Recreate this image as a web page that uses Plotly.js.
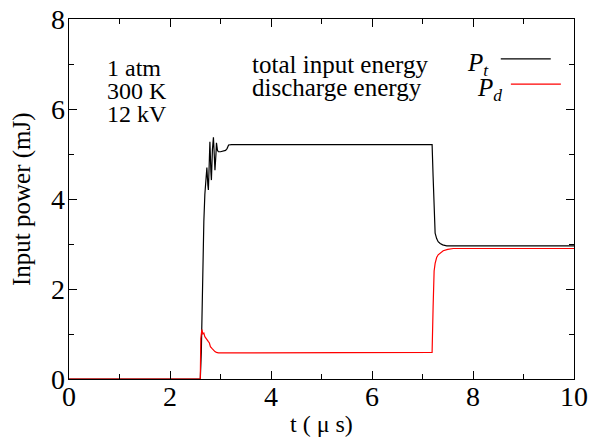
<!DOCTYPE html>
<html>
<head>
<meta charset="utf-8">
<script src="https://cdn.plot.ly/plotly-3.0.1.min.js"></script>
<style>
  html, body { margin: 0; padding: 0; background: #fff; }
  #chart { width: 590px; height: 440px; }
</style>
</head>
<body>
<div id="chart"></div>
<script>
// Time axis (microseconds) and energies (mJ) for the 12 kV discharge at 1 atm, 300 K
const tTotal = [0, 2.60, 2.62, 2.63, 2.65, 2.67, 2.69, 2.71, 2.73, 2.75, 2.76, 2.78, 2.79,
  2.81, 2.82, 2.84, 2.86, 2.88, 2.89, 2.91, 2.92, 2.94, 2.96, 3.00, 3.05, 3.10, 3.13,
  3.16, 3.22, 5.00, 7.19, 7.21, 7.23, 7.25, 7.28, 7.31, 7.35, 7.40, 7.48, 7.60, 8.00, 10];
const pTotal = [0, 0, 0.6, 1.3, 2.8, 3.5, 4.1, 4.5, 4.7, 4.3, 4.2, 4.9, 5.27,
  4.6, 4.42, 5.1, 5.37, 4.9, 4.64, 5.0, 5.25, 5.08, 5.05, 5.05, 5.06, 5.08, 5.12,
  5.20, 5.21, 5.21, 5.21, 4.5, 3.6, 3.24, 3.12, 3.05, 3.01, 2.98, 2.96, 2.96, 2.96, 2.96];

const tDischarge = [0, 2.60, 2.61, 2.63, 2.65, 2.67, 2.69, 2.71, 2.73, 2.75, 2.76, 2.78,
  2.80, 2.83, 2.86, 2.89, 2.92, 2.96, 3.10, 5.00, 7.19, 7.21, 7.23, 7.25, 7.28, 7.31,
  7.35, 7.41, 7.50, 7.61, 7.80, 8.00, 10];
const pDischarge = [0, 0, 0.9, 1.10, 1.00, 1.02, 0.94, 0.90, 0.87, 0.85, 0.83, 0.80,
  0.72, 0.68, 0.64, 0.61, 0.59, 0.58, 0.58, 0.58, 0.59, 1.6, 2.4, 2.57, 2.70, 2.76,
  2.80, 2.85, 2.88, 2.90, 2.90, 2.90, 2.90];

const xTicks = [0, 2, 4, 6, 8, 10];
const yTicks = [0, 2, 4, 6, 8];
const xRange = [0, 10];
const yRange = [0, 8];
const xTitle = 't ( μ s)';
const yTitle = 'Input power (mJ)';

const serif = 'Liberation Serif';

function font(size) {
  return { family: serif, size: size, color: '#000000' };
}

const traces = [
  { x: tTotal, y: pTotal, mode: 'lines', name: 'total input energy',
    line: { color: '#000000', width: 1.2 }, showlegend: false },
  { x: tDischarge, y: pDischarge, mode: 'lines', name: 'discharge energy',
    line: { color: '#ff0000', width: 1.2 }, showlegend: false },
  // empty trace that carries the overlay axes used for the unit (minor) ticks
  { x: [], y: [], xaxis: 'x2', yaxis: 'y2', mode: 'lines', showlegend: false, hoverinfo: 'skip' }
];

function note(x, y, text, size) {
  return { xref: 'paper', yref: 'paper', x: x, y: y, xanchor: 'left', yanchor: 'middle',
    text: text, showarrow: false, font: font(size) };
}

// major axes: ticks every 2 units, mirrored onto the opposite frame edge
function majorAxis(range, vals) {
  return {
    range: range, tickmode: 'array', tickvals: vals, showticklabels: false,
    showline: true, linecolor: '#000', linewidth: 1, mirror: 'ticks',
    ticks: 'inside', ticklen: 8, tickwidth: 1, tickcolor: '#000',
    showgrid: false, zeroline: false
  };
}

// overlay axes: short unlabelled ticks every unit
function minorAxis(range, overlay, anchor) {
  return {
    range: range, overlaying: overlay, anchor: anchor, dtick: 1, tick0: 0,
    showline: false, mirror: 'ticks', ticks: 'inside', ticklen: 5, tickwidth: 1, tickcolor: '#000',
    showticklabels: false, showgrid: false, zeroline: false
  };
}

// serif tick labels placed at the tick values on each axis
const xLabels = xTicks.map(function (v) {
  return { xref: 'x', x: v, yref: 'paper', y: 0, xanchor: 'center', yanchor: 'top',
    text: String(v), showarrow: false, font: font(28) };
});
const yLabels = yTicks.map(function (v) {
  return { xref: 'paper', x: 0, xshift: -2, yref: 'y', y: v, xanchor: 'right', yanchor: 'middle',
    text: String(v), showarrow: false, font: font(28) };
});

const titles = [
  { xref: 'paper', yref: 'paper', x: 0.5, y: 0, yshift: -45, xanchor: 'center', yanchor: 'middle',
    text: xTitle, showarrow: false, font: font(24) },
  { xref: 'paper', yref: 'paper', x: 0, xshift: -47, y: 0.5, xanchor: 'center', yanchor: 'middle',
    textangle: -90, text: yTitle, showarrow: false, font: font(25) }
];

const layout = {
  width: 590, height: 440,
  margin: { l: 69, r: 16, t: 19, b: 61 },
  paper_bgcolor: '#fff', plot_bgcolor: '#fff',
  xaxis: majorAxis(xRange, xTicks),
  yaxis: majorAxis(yRange, yTicks),
  xaxis2: minorAxis(xRange, 'x', 'y2'),
  yaxis2: minorAxis(yRange, 'y', 'x2'),
  annotations: xLabels.concat(yLabels, titles, [
    note(0.072, 0.864, '1 atm', 24),
    note(0.072, 0.8, '300 K', 24),
    note(0.072, 0.736, '12 kV', 24),
    note(0.358, 0.875, 'total input energy', 25),
    note(0.358, 0.81, 'discharge energy', 25),
    note(0.785, 0.875, '<i>P</i><sub><i>t</i></sub>', 25),
    note(0.803, 0.805, '<i>P</i><sub><i>d</i></sub>', 25)
  ]),
  shapes: [
    { type: 'line', xref: 'paper', yref: 'paper', x0: 0.855, x1: 0.954, y0: 0.889, y1: 0.889,
      line: { color: '#000', width: 1.2 } },
    { type: 'line', xref: 'paper', yref: 'paper', x0: 0.875, x1: 0.974, y0: 0.819, y1: 0.819,
      line: { color: '#ff0000', width: 1.2 } }
  ]
};

Plotly.newPlot('chart', traces, layout, { displayModeBar: false });
</script>
</body>
</html>
